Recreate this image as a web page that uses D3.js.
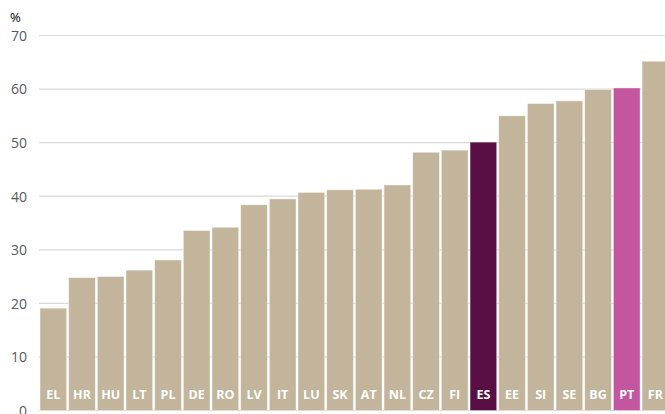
<!DOCTYPE html>
<html>
<head>
<meta charset="utf-8">
<script src="https://cdn.jsdelivr.net/npm/d3@7"></script>
<style>
  html, body { margin: 0; padding: 0; background: #fff; }
  svg { display: block; }
</style>
</head>
<body>
<svg id="chart" width="665" height="414"></svg>
<script>
// 国家代码与数值（%）
const countries = ["EL", "HR", "HU", "LT", "PL", "DE", "RO", "LV", "IT", "LU", "SK",
                   "AT", "NL", "CZ", "FI", "ES", "EE", "SI", "SE", "BG", "PT", "FR"];
const values = [19.1, 24.8, 25.0, 26.2, 28.1, 33.6, 34.2, 38.4, 39.5, 40.7, 41.2,
                41.3, 42.1, 48.2, 48.6, 50.1, 55.0, 57.3, 57.8, 59.9, 60.2, 65.2];
const yTicks = [0, 10, 20, 30, 40, 50, 60, 70];

// 高亮国家
const highlight = { "ES": "#5a0f44", "PT": "#c4559f" };
const baseColor = "#c2b59b";

const svg = d3.select("#chart");
const plotLeft = 39, plotTop = 35.5, plotBottom = 410.5;
const plotRight = plotLeft + countries.length * 28.67;

const x = d3.scaleBand()
    .domain(countries)
    .range([plotLeft, plotRight])
    .paddingInner(0.07)
    .paddingOuter(0.035);

const y = d3.scaleLinear()
    .domain([0, 70])
    .range([plotBottom, plotTop]);

// 网格线
svg.append("g")
    .selectAll("line")
    .data(yTicks)
    .join("line")
    .attr("x1", plotLeft)
    .attr("x2", 665)
    .attr("y1", d => y(d))
    .attr("y2", d => y(d))
    .attr("stroke", "#d9d9d9")
    .attr("stroke-width", 1.2);

// y 轴刻度
const yAxis = d3.axisLeft(y).tickValues(yTicks).tickSize(0).tickPadding(0);
const ga = svg.append("g")
    .attr("transform", `translate(27,0)`)
    .call(yAxis);
ga.select(".domain").remove();
ga.selectAll("text")
    .attr("fill", "#595959")
    .attr("font-family", "'Open Sans', 'Liberation Sans', sans-serif")
    .attr("font-size", 14)
    .attr("dy", "0.35em");

// 单位
svg.append("text")
    .attr("x", 10)
    .attr("y", 22)
    .attr("font-family", "'Open Sans', 'Liberation Sans', sans-serif")
    .attr("font-size", 13)
    .attr("fill", "#000")
    .text("%");

// 柱子
svg.append("g")
    .selectAll("rect")
    .data(countries)
    .join("rect")
    .attr("x", d => x(d))
    .attr("width", x.bandwidth())
    .attr("y", (d, i) => y(values[i]))
    .attr("height", (d, i) => y(0) - y(values[i]))
    .attr("fill", d => highlight[d] || baseColor)
    .attr("stroke", "rgba(255,255,255,0.5)")
    .attr("stroke-width", 0.8);

// 柱内标签
svg.append("g")
    .selectAll("text")
    .data(countries)
    .join("text")
    .attr("x", d => x(d) + x.bandwidth() / 2)
    .attr("y", 399)
    .attr("text-anchor", "middle")
    .attr("font-family", "'Open Sans', 'Liberation Sans', sans-serif")
    .attr("font-weight", "bold")
    .attr("font-size", 12.5)
    .attr("fill", "#fff")
    .text(d => d);
</script>
</body>
</html>
